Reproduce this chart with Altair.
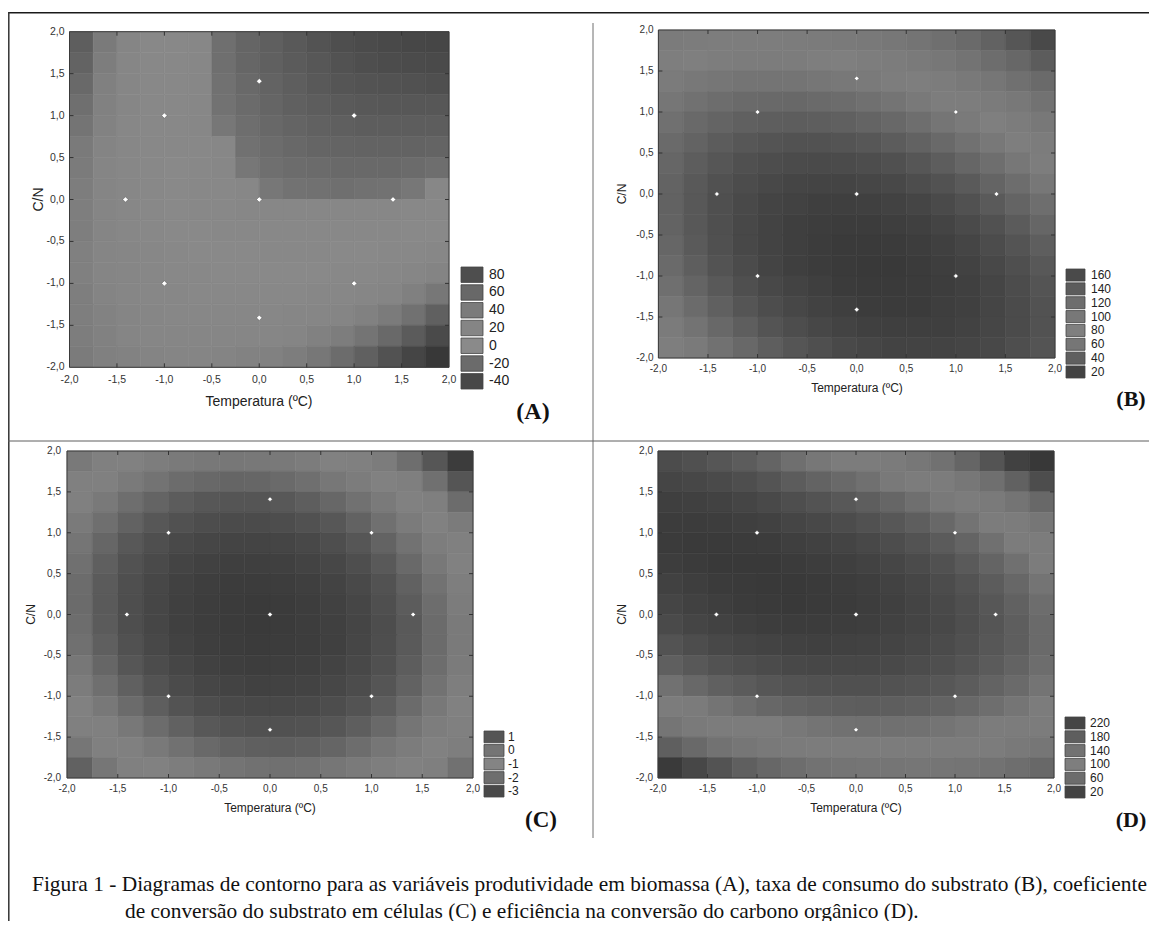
import altair as alt
import pandas as pd

# ---------------- data ----------------
GRID = [-1.875, -1.625, -1.375, -1.125, -0.875, -0.625, -0.375, -0.125,
        0.125, 0.375, 0.625, 0.875, 1.125, 1.375, 1.625, 1.875]
ROW_Y = list(reversed(GRID))          # rows below are listed from top (C/N = 1.875) to bottom
HALF = 0.125

TICKS = [-2.0, -1.5, -1.0, -0.5, 0.0, 0.5, 1.0, 1.5, 2.0]
DESIGN_T = [0.0, -1.0, 1.0, -1.0, 1.0, -1.41, 1.41, 0.0, 0.0]
DESIGN_CN = [0.0, -1.0, -1.0, 1.0, 1.0, 0.0, 0.0, -1.41, 1.41]

A_VALUES = [
    [-13, -3, 6, 15, 24, 31, 38, 45, 50, 55, 60, 64, 67, 70, 72, 73],
    [-11, -1, 8, 16, 24, 31, 38, 44, 49, 53, 57, 61, 64, 66, 67, 68],
    [-9, 1, 9, 17, 24, 31, 37, 42, 47, 51, 55, 58, 60, 61, 62, 63],
    [-7, 2, 10, 18, 24, 30, 36, 41, 45, 49, 52, 54, 56, 57, 57, 57],
    [-5, 3, 11, 18, 24, 30, 35, 39, 43, 46, 48, 50, 52, 52, 52, 52],
    [-3, 4, 11, 18, 24, 29, 33, 37, 40, 43, 45, 46, 47, 47, 47, 46],
    [-2, 5, 12, 18, 23, 27, 31, 35, 38, 40, 41, 42, 42, 42, 41, 39],
    [-1, 6, 12, 17, 22, 26, 29, 32, 35, 36, 37, 38, 37, 36, 35, 33],
    [0, 6, 11, 16, 21, 24, 27, 30, 31, 32, 33, 33, 32, 31, 29, 26],
    [0, 6, 11, 15, 19, 22, 25, 27, 28, 28, 28, 28, 27, 25, 22, 19],
    [1, 6, 10, 14, 17, 20, 22, 23, 24, 24, 24, 23, 21, 18, 15, 12],
    [1, 5, 9, 13, 15, 17, 19, 20, 20, 20, 19, 17, 15, 12, 8, 4],
    [0, 4, 8, 11, 13, 15, 16, 16, 16, 15, 13, 11, 9, 5, 1, -4],
    [0, 3, 6, 9, 11, 12, 12, 12, 11, 10, 8, 5, 2, -2, -6, -12],
    [-1, 2, 5, 7, 8, 8, 8, 8, 7, 5, 2, -1, -5, -9, -14, -20],
    [-2, 1, 3, 4, 5, 5, 4, 3, 2, -1, -4, -8, -12, -17, -22, -28],
]

B_VALUES = [
    [62, 66, 69, 70, 70, 68, 64, 59, 52, 44, 34, 22, 9, -6, -22, -40],
    [76, 81, 85, 87, 87, 86, 83, 79, 73, 65, 56, 45, 33, 18, 3, -14],
    [89, 95, 99, 102, 103, 102, 100, 96, 91, 84, 76, 66, 54, 41, 26, 9],
    [100, 106, 111, 115, 116, 117, 115, 112, 108, 102, 94, 84, 73, 61, 47, 31],
    [108, 116, 122, 126, 128, 129, 128, 126, 122, 117, 110, 101, 91, 79, 66, 50],
    [115, 123, 130, 135, 138, 140, 140, 138, 135, 130, 124, 116, 106, 95, 83, 68],
    [120, 129, 136, 142, 146, 148, 149, 148, 146, 142, 136, 129, 120, 110, 98, 84],
    [123, 133, 141, 147, 152, 155, 156, 156, 154, 151, 146, 140, 132, 122, 111, 98],
    [124, 134, 143, 150, 156, 159, 162, 162, 161, 159, 155, 149, 141, 132, 122, 110],
    [123, 134, 144, 151, 157, 162, 165, 166, 166, 164, 161, 156, 149, 141, 131, 120],
    [120, 132, 142, 151, 157, 163, 166, 169, 169, 168, 165, 161, 155, 147, 138, 128],
    [115, 128, 139, 148, 156, 162, 166, 169, 170, 170, 168, 164, 159, 152, 144, 134],
    [109, 122, 133, 143, 152, 158, 163, 167, 169, 169, 168, 165, 161, 155, 147, 138],
    [100, 114, 126, 137, 146, 153, 159, 163, 166, 167, 167, 164, 161, 155, 148, 140],
    [89, 104, 117, 128, 138, 146, 153, 158, 161, 163, 163, 162, 159, 154, 148, 140],
    [77, 92, 106, 118, 128, 137, 144, 150, 154, 157, 158, 157, 155, 151, 145, 138],
]

C_VALUES = [
    [-0.58, -0.94, -1.24, -1.48, -1.65, -1.76, -1.80, -1.77, -1.69, -1.53, -1.31, -1.03, -0.68, -0.27, 0.21, 0.76],
    [-0.99, -1.37, -1.67, -1.92, -2.10, -2.21, -2.26, -2.24, -2.16, -2.02, -1.80, -1.53, -1.19, -0.78, -0.31, 0.23],
    [-1.34, -1.72, -2.04, -2.29, -2.48, -2.60, -2.65, -2.65, -2.57, -2.43, -2.23, -1.96, -1.63, -1.23, -0.76, -0.23],
    [-1.63, -2.02, -2.34, -2.60, -2.79, -2.92, -2.98, -2.98, -2.92, -2.79, -2.59, -2.33, -2.00, -1.61, -1.15, -0.63],
    [-1.85, -2.24, -2.58, -2.84, -3.04, -3.18, -3.25, -3.26, -3.20, -3.07, -2.88, -2.63, -2.31, -1.93, -1.48, -0.96],
    [-2.00, -2.41, -2.75, -3.02, -3.23, -3.37, -3.45, -3.46, -3.41, -3.30, -3.11, -2.87, -2.56, -2.18, -1.74, -1.23],
    [-2.09, -2.51, -2.85, -3.13, -3.35, -3.50, -3.59, -3.61, -3.56, -3.45, -3.28, -3.04, -2.74, -2.37, -1.93, -1.43],
    [-2.12, -2.54, -2.89, -3.18, -3.40, -3.56, -3.66, -3.68, -3.65, -3.55, -3.38, -3.15, -2.85, -2.49, -2.06, -1.57],
    [-2.08, -2.51, -2.87, -3.16, -3.39, -3.56, -3.66, -3.70, -3.67, -3.57, -3.42, -3.19, -2.90, -2.55, -2.13, -1.65],
    [-1.98, -2.41, -2.78, -3.08, -3.32, -3.49, -3.60, -3.65, -3.62, -3.54, -3.39, -3.17, -2.89, -2.54, -2.13, -1.65],
    [-1.81, -2.25, -2.62, -2.93, -3.18, -3.36, -3.48, -3.53, -3.51, -3.44, -3.29, -3.08, -2.81, -2.47, -2.07, -1.60],
    [-1.57, -2.02, -2.40, -2.72, -2.98, -3.16, -3.29, -3.35, -3.34, -3.27, -3.13, -2.93, -2.66, -2.33, -1.94, -1.47],
    [-1.27, -1.73, -2.12, -2.44, -2.71, -2.90, -3.03, -3.10, -3.10, -3.04, -2.91, -2.71, -2.45, -2.13, -1.74, -1.29],
    [-0.91, -1.37, -1.77, -2.10, -2.37, -2.57, -2.71, -2.79, -2.80, -2.74, -2.62, -2.43, -2.18, -1.86, -1.48, -1.03],
    [-0.48, -0.95, -1.35, -1.70, -1.97, -2.18, -2.33, -2.41, -2.43, -2.38, -2.26, -2.08, -1.84, -1.53, -1.16, -0.72],
    [0.02, -0.46, -0.87, -1.22, -1.51, -1.72, -1.88, -1.97, -1.99, -1.95, -1.84, -1.67, -1.44, -1.13, -0.77, -0.34],
]

D_VALUES = [
    [188, 179, 168, 156, 141, 123, 109, 97, 83, 67, 49, 28, 6, -19, -46, -75],
    [206, 201, 193, 183, 171, 156, 144, 133, 121, 106, 89, 70, 48, 24, -1, -29],
    [220, 217, 212, 205, 195, 184, 173, 164, 152, 139, 123, 105, 85, 62, 38, 11],
    [227, 227, 225, 220, 214, 205, 197, 189, 178, 166, 151, 135, 116, 94, 71, 46],
    [229, 232, 232, 230, 227, 221, 214, 207, 198, 187, 174, 158, 141, 121, 99, 74],
    [225, 230, 234, 235, 234, 231, 226, 221, 213, 203, 191, 177, 160, 141, 121, 98],
    [215, 223, 229, 233, 235, 235, 232, 228, 222, 213, 202, 189, 174, 156, 137, 115],
    [205, 215, 223, 229, 232, 234, 233, 230, 225, 217, 207, 196, 182, 165, 147, 126],
    [193, 204, 213, 220, 225, 227, 228, 226, 222, 216, 207, 197, 184, 169, 152, 132],
    [174, 187, 197, 205, 211, 215, 217, 216, 213, 208, 201, 192, 180, 166, 151, 132],
    [150, 164, 175, 185, 192, 197, 200, 200, 199, 195, 189, 181, 171, 158, 144, 127],
    [120, 135, 148, 158, 167, 173, 177, 179, 179, 176, 172, 165, 156, 144, 131, 115],
    [84, 101, 115, 126, 136, 144, 149, 152, 153, 152, 148, 143, 135, 125, 113, 98],
    [43, 60, 76, 89, 100, 108, 115, 119, 121, 121, 119, 115, 108, 99, 88, 75],
    [-4, 14, 31, 45, 57, 67, 75, 81, 84, 85, 84, 81, 76, 68, 59, 47],
    [-57, -37, -20, -4, 9, 21, 30, 36, 41, 43, 44, 42, 38, 31, 23, 12],
]

A_LEGEND = ["80", "60", "40", "20", "0", "-20", "-40"]
B_LEGEND = ["160", "140", "120", "100", "80", "60", "40", "20"]
C_LEGEND = ["1", "0", "-1", "-2", "-3"]
D_LEGEND = ["220", "180", "140", "100", "60", "20"]

X_TITLE = "Temperatura (ºC)"
Y_TITLE = "C/N"
LETTERS = ["(A)", "(B)", "(C)", "(D)"]
CAPTION = [
    "Figura 1 - Diagramas de contorno para as variáveis produtividade em biomassa (A), "
    "taxa de consumo do substrato (B), coeficiente",
    "de conversão do substrato em células (C) e eficiência na conversão do carbono orgânico (D).",
]

# ---------------- styles ----------------
SANS = "Liberation Sans"
SERIF = "Liberation Serif"
W, H = 1141, 913

A_SHADES = ([-30, -20, -10, -3, 5, 20, 33, 35.5, 45, 55, 65, 75],
            ["#333333", "#4a4a4a", "#666666", "#7a7a7a", "#858585", "#898989",
             "#878787", "#737373", "#656565", "#595959", "#4d4d4d", "#444444"])
B_SHADES = ([-60, -30, 0, 40, 80, 100, 120, 140, 155, 170],
            ["#3a3a3a", "#505050", "#666666", "#767676", "#7f7f7f", "#767676",
             "#666666", "#525252", "#454545", "#393939"])
C_SHADES = ([-3.7, -3.4, -3.0, -2.6, -2.2, -1.8, -1.3, -0.8, -0.4, 0.0, 0.4, 0.8],
            ["#3a3a3a", "#404040", "#4a4a4a", "#575757", "#686868", "#777777",
             "#818181", "#808080", "#747474", "#626262", "#4c4c4c", "#3a3a3a"])
D_SHADES = ([-60, -30, 0, 30, 70, 100, 125, 150, 175, 200, 220, 235],
            ["#383838", "#4c4c4c", "#626262", "#727272", "#7c7c7c", "#7c7c7c",
             "#6e6e6e", "#5f5f5f", "#525252", "#474747", "#3f3f3f", "#393939"])

A_SWATCH = ["#4e4e4e", "#686868", "#7b7b7b", "#858585", "#8a8a8a", "#6b6b6b", "#484848"]
B_SWATCH = ["#4a4a4a", "#5c5c5c", "#6e6e6e", "#787878", "#7f7f7f", "#767676", "#5f5f5f", "#434343"]
C_SWATCH = ["#555555", "#757575", "#848484", "#6e6e6e", "#494949"]
D_SWATCH = ["#454545", "#5e5e5e", "#727272", "#7e7e7e", "#6c6c6c", "#434343"]

GEO_A = dict(l=61.5, r=441, b=359.3, t=23.7, xlab_y=371.5, ylab_x=56.5, tick_fs=10.5,
             title=(251, 394), cn=(31, 191.5), title_fs=14,
             leg_x=(453, 475), leg_y=(259, 381), leg_tx=481, leg_fs=14,
             letter=(525, 404), letter_fs=24, pt=30)
GEO_B = dict(l=650.4, r=1047, b=350, t=22, xlab_y=361, ylab_x=645.5, tick_fs=10,
             title=(849, 380), cn=(614, 186), title_fs=12,
             leg_x=(1058, 1077), leg_y=(261, 370), leg_tx=1083, leg_fs=12,
             letter=(1123, 391), letter_fs=22, pt=22)
GEO_C = dict(l=59, r=465, b=770, t=443, xlab_y=781, ylab_x=53, tick_fs=10,
             title=(262, 800), cn=(23.4, 606.5), title_fs=12,
             leg_x=(476, 496), leg_y=(723, 789), leg_tx=500, leg_fs=12,
             letter=(533, 812), letter_fs=23, pt=22)
GEO_D = dict(l=650, r=1046, b=770, t=443, xlab_y=781, ylab_x=645, tick_fs=10,
             title=(848, 800), cn=(614, 606.5), title_fs=12,
             leg_x=(1057, 1077), leg_y=(709, 790), leg_tx=1082, leg_fs=12,
             letter=(1123, 812), letter_fs=22, pt=22)


def one_row(**kw):
    return pd.DataFrame({k: [v] for k, v in kw.items()})


def build_panel(values, shades, g, legend_labels, legend_colors, letter):
    xs = alt.Scale(domain=[-2, 2], range=[g["l"], g["r"]], nice=False, zero=False)
    ys = alt.Scale(domain=[-2, 2], range=[g["b"], g["t"]], nice=False, zero=False)
    cs = alt.Scale(domain=shades[0], range=shades[1], interpolate="rgb", clamp=True)

    rows = []
    for yv, row in zip(ROW_Y, values):
        for xv, z in zip(GRID, row):
            rows.append(dict(x0=xv - HALF, x1=xv + HALF, y0=yv - HALF, y1=yv + HALF, z=z))
    cells = pd.DataFrame(rows)

    layers = []
    layers.append(alt.Chart(cells).mark_rect(strokeWidth=0.6).encode(
        x=alt.X("x0:Q", scale=xs, axis=None), x2=alt.X2("x1"),
        y=alt.Y("y0:Q", scale=ys, axis=None), y2=alt.Y2("y1"),
        fill=alt.Fill("z:Q", scale=cs, legend=None),
        stroke=alt.Stroke("z:Q", scale=cs, legend=None)))

    # frame
    layers.append(alt.Chart(one_row(a=-2.0, b=2.0)).mark_rect(
        fillOpacity=0, stroke="#3a3a3a", strokeWidth=1).encode(
        x=alt.X("a:Q", scale=xs, axis=None), x2=alt.X2("b"),
        y=alt.Y("a:Q", scale=ys, axis=None), y2=alt.Y2("b")))

    # design points
    pts = pd.DataFrame({"t": DESIGN_T, "cn": DESIGN_CN})
    layers.append(alt.Chart(pts).mark_point(shape="diamond", filled=True, color="white",
                                            opacity=1, size=g["pt"], stroke="#555555",
                                            strokeWidth=0.5).encode(
        x=alt.X("t:Q", scale=xs, axis=None), y=alt.Y("cn:Q", scale=ys, axis=None)))

    ticks = pd.DataFrame({"t": TICKS, "label": [f"{v:.1f}".replace(".", ",") for v in TICKS]})
    inner = pd.DataFrame({"t": TICKS[1:-1]})

    layers.append(alt.Chart(ticks).mark_text(font=SANS, fontSize=g["tick_fs"], color="#333333",
                                             baseline="middle").encode(
        x=alt.X("t:Q", scale=xs, axis=None), y=alt.value(g["xlab_y"]), text="label:N"))
    layers.append(alt.Chart(ticks).mark_text(font=SANS, fontSize=g["tick_fs"], color="#333333",
                                             baseline="middle", align="right").encode(
        y=alt.Y("t:Q", scale=ys, axis=None), x=alt.value(g["ylab_x"]), text="label:N"))

    tk = dict(color="#333333", strokeWidth=1)
    layers.append(alt.Chart(inner).mark_rule(**tk).encode(
        x=alt.X("t:Q", scale=xs, axis=None), y=alt.value(g["b"]), y2=alt.value(g["b"] - 4)))
    layers.append(alt.Chart(inner).mark_rule(**tk).encode(
        x=alt.X("t:Q", scale=xs, axis=None), y=alt.value(g["t"]), y2=alt.value(g["t"] + 4)))
    layers.append(alt.Chart(inner).mark_rule(**tk).encode(
        y=alt.Y("t:Q", scale=ys, axis=None), x=alt.value(g["l"]), x2=alt.value(g["l"] + 4)))
    layers.append(alt.Chart(inner).mark_rule(**tk).encode(
        y=alt.Y("t:Q", scale=ys, axis=None), x=alt.value(g["r"]), x2=alt.value(g["r"] - 4)))

    # axis titles
    layers.append(alt.Chart(one_row(s=X_TITLE)).mark_text(
        font=SANS, fontSize=g["title_fs"], color="#222222", baseline="middle").encode(
        x=alt.value(g["title"][0]), y=alt.value(g["title"][1]), text="s:N"))
    layers.append(alt.Chart(one_row(s=Y_TITLE)).mark_text(
        font=SANS, fontSize=g["title_fs"], color="#222222", baseline="middle", angle=270).encode(
        x=alt.value(g["cn"][0]), y=alt.value(g["cn"][1]), text="s:N"))

    # legend
    leg = pd.DataFrame({"lab": legend_labels})
    ls = alt.Scale(type="band", domain=legend_labels, range=list(g["leg_y"]),
                   paddingInner=0.13, paddingOuter=0)
    fs = alt.Scale(domain=legend_labels, range=legend_colors)
    layers.append(alt.Chart(leg).mark_rect(stroke="#444444", strokeWidth=0.8).encode(
        y=alt.Y("lab:N", scale=ls, sort=legend_labels, axis=None),
        x=alt.value(g["leg_x"][0]), x2=alt.value(g["leg_x"][1]),
        fill=alt.Fill("lab:N", scale=fs, legend=None)))
    layers.append(alt.Chart(leg).mark_text(font=SANS, fontSize=g["leg_fs"], color="#222222",
                                           align="left", baseline="middle").encode(
        y=alt.Y("lab:N", scale=ls, sort=legend_labels, axis=None),
        x=alt.value(g["leg_tx"]), text="lab:N"))

    # panel letter
    layers.append(alt.Chart(one_row(s=letter)).mark_text(
        font=SERIF, fontSize=g["letter_fs"], fontWeight="bold", color="#111111").encode(
        x=alt.value(g["letter"][0]), y=alt.value(g["letter"][1]), text="s:N"))
    return layers


layers = []
layers += build_panel(A_VALUES, A_SHADES, GEO_A, A_LEGEND, A_SWATCH, LETTERS[0])
layers += build_panel(B_VALUES, B_SHADES, GEO_B, B_LEGEND, B_SWATCH, LETTERS[1])
layers += build_panel(C_VALUES, C_SHADES, GEO_C, C_LEGEND, C_SWATCH, LETTERS[2])
layers += build_panel(D_VALUES, D_SHADES, GEO_D, D_LEGEND, D_SWATCH, LETTERS[3])

k = one_row(k=0)
# frame of the figure
layers.append(alt.Chart(k).mark_rule(color="#1a1a1a", strokeWidth=1.6).encode(
    x=alt.value(0), x2=alt.value(W), y=alt.value(4.7)))
layers.append(alt.Chart(k).mark_rule(color="#333333", strokeWidth=1.5).encode(
    x=alt.value(0.8), y=alt.value(4), y2=alt.value(H)))
layers.append(alt.Chart(k).mark_rule(color="#6e6e6e", strokeWidth=1).encode(
    x=alt.value(585), y=alt.value(15), y2=alt.value(830)))
layers.append(alt.Chart(k).mark_rule(color="#5e5e5e", strokeWidth=1).encode(
    x=alt.value(0), x2=alt.value(W), y=alt.value(433)))

# caption
layers.append(alt.Chart(one_row(s=CAPTION[0])).mark_text(
    font=SERIF, fontSize=21.4, color="#111111", align="left", baseline="alphabetic").encode(
    x=alt.value(24), y=alt.value(883), text="s:N"))
layers.append(alt.Chart(one_row(s=CAPTION[1])).mark_text(
    font=SERIF, fontSize=21.4, color="#111111", align="left", baseline="alphabetic").encode(
    x=alt.value(117), y=alt.value(909.5), text="s:N"))

chart = alt.layer(*layers).resolve_scale(
    x="independent", y="independent", fill="independent", stroke="independent"
).properties(
    width=W, height=H, padding=0, autosize=alt.AutoSizeParams(type="none")
).configure_view(stroke=None)

chart.save("out.html", embed_options={"renderer": "svg", "actions": False})
